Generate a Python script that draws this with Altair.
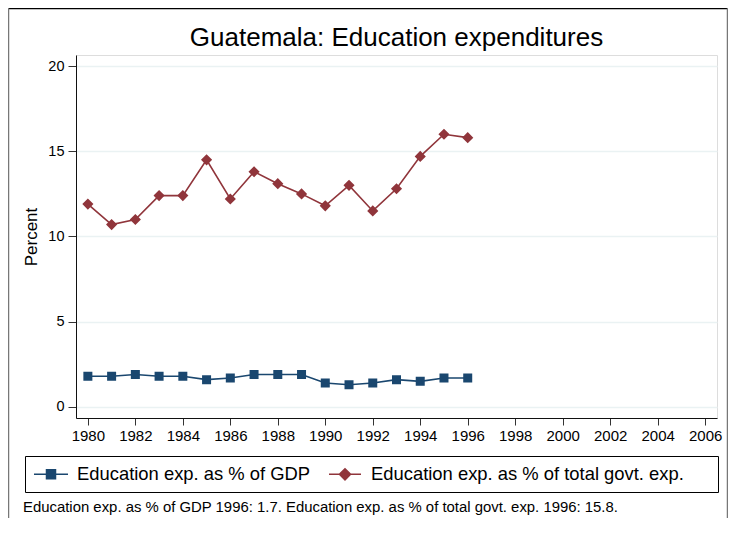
import altair as alt
import pandas as pd

years = list(range(1980, 1997))
gdp = [1.8, 1.8, 1.9, 1.8, 1.8, 1.6, 1.7, 1.9, 1.9, 1.9, 1.4, 1.3, 1.4, 1.6, 1.5, 1.7, 1.7]
govt = [11.9, 10.7, 11.0, 12.4, 12.4, 14.5, 12.2, 13.8, 13.1, 12.5, 11.8, 13.0, 11.5, 12.8, 14.7, 16.0, 15.8]
series = ["Education exp. as % of GDP", "Education exp. as % of total govt. exp."]
colors = ["#1a476f", "#90353b"]
x_ticks = list(range(1980, 2007, 2))
y_ticks = [0, 5, 10, 15, 20]

rows = []
for y, v in zip(years, gdp):
    rows.append({"year": y, "value": v, "series": series[0]})
for y, v in zip(years, govt):
    rows.append({"year": y, "value": v, "series": series[1]})
df = pd.DataFrame(rows)

note = (f"{series[0]} {years[-1]}: {gdp[-1]}. "
        f"{series[1]} {years[-1]}: {govt[-1]}.")

FONT = "Liberation Sans"

# marker paths with a connecting-line stroke (the stroke is only drawn in the legend)
sq_path = "M-1.89,0H1.89M-0.5,-0.5H0.5V0.5H-0.5Z"
dm_path = "M-1.78,0H1.78M0,-0.62L0.62,0L0,0.62L-0.62,0Z"

x_enc = alt.X("year:Q",
              scale=alt.Scale(domain=[1979.5, 2006.5], nice=False, zero=False),
              axis=alt.Axis(values=x_ticks, format="d", title=None, grid=False,
                            labelFontSize=15, labelFont=FONT, labelColor="black",
                            tickSize=7, tickColor="#333", domainColor="#111",
                            labelPadding=3, labelFlush=False))
y_enc = alt.Y("value:Q",
              scale=alt.Scale(domain=[-0.65, 20.65], nice=False, zero=False),
              axis=alt.Axis(values=y_ticks, title="Percent", grid=True,
                            gridColor="#eaf2f3", gridWidth=1.5,
                            labelFontSize=14.5, labelFont=FONT, labelColor="black",
                            tickSize=8, tickColor="#333", domainColor="#111",
                            labelPadding=4,
                            titleFont=FONT, titleFontSize=17, titleFontWeight="normal",
                            titleColor="black", titlePadding=7))

legend = alt.Legend(
    title=None, orient="none", legendX=-51, legendY=401,
    direction="horizontal", strokeColor="black",
    padding=8, labelFont=FONT, labelFontSize=18.4,
    labelColor="black", symbolSize=324, symbolOffset=8,
    labelOffset=16, columnPadding=14, labelLimit=500,
    labelExpr=f"datum.label + (datum.value == '{series[1]}' ? '\u2800\u2800' : '')",
    symbolStrokeWidth=1.5)

color_enc = alt.Color("series:N", scale=alt.Scale(domain=series, range=colors), legend=legend)
shape_enc = alt.Shape("series:N", scale=alt.Scale(domain=series, range=[sq_path, dm_path]), legend=legend)

base = alt.Chart(df).encode(x=x_enc, y=y_enc, color=color_enc)

lines = base.mark_line(strokeWidth=1.6)
points = base.mark_point(filled=True, size=324, strokeWidth=0, opacity=1).encode(shape=shape_enc)

one = pd.DataFrame({"a": [0]})
frame_top = alt.Chart(one).mark_rule(color="black", strokeWidth=1.5).encode(
    x=alt.value(-67.5), x2=alt.value(651.5), y=alt.value(-46.5))
frame_left = alt.Chart(one).mark_rule(color="#777", strokeWidth=1.5).encode(
    x=alt.value(-67.5), y=alt.value(-46.5), y2=alt.value(470))
frame_right = alt.Chart(one).mark_rule(color="#777", strokeWidth=1.5).encode(
    x=alt.value(651.5), y=alt.value(-46.5), y2=alt.value(470))
footnote = alt.Chart(one).mark_text(align="left", baseline="alphabetic", font=FONT,
                                    fontSize=14.9, color="black").encode(
    x=alt.value(-53), y=alt.value(457), text=alt.value(note))

chart = alt.layer(lines, points, frame_top, frame_left, frame_right, footnote).properties(
    width=641, height=363,
    title=alt.TitleParams("Guatemala: Education expenditures", font=FONT, fontSize=26,
                          fontWeight="normal", color="black", anchor="middle",
                          frame="group", offset=4, dy=47),
    autosize=alt.AutoSizeParams(type="none"),
    padding={"left": 68, "top": 47, "right": 11, "bottom": 100},
).configure_view(strokeWidth=0).configure(background="white")

chart.save("out.html", embed_options={"renderer": "svg", "actions": False})
